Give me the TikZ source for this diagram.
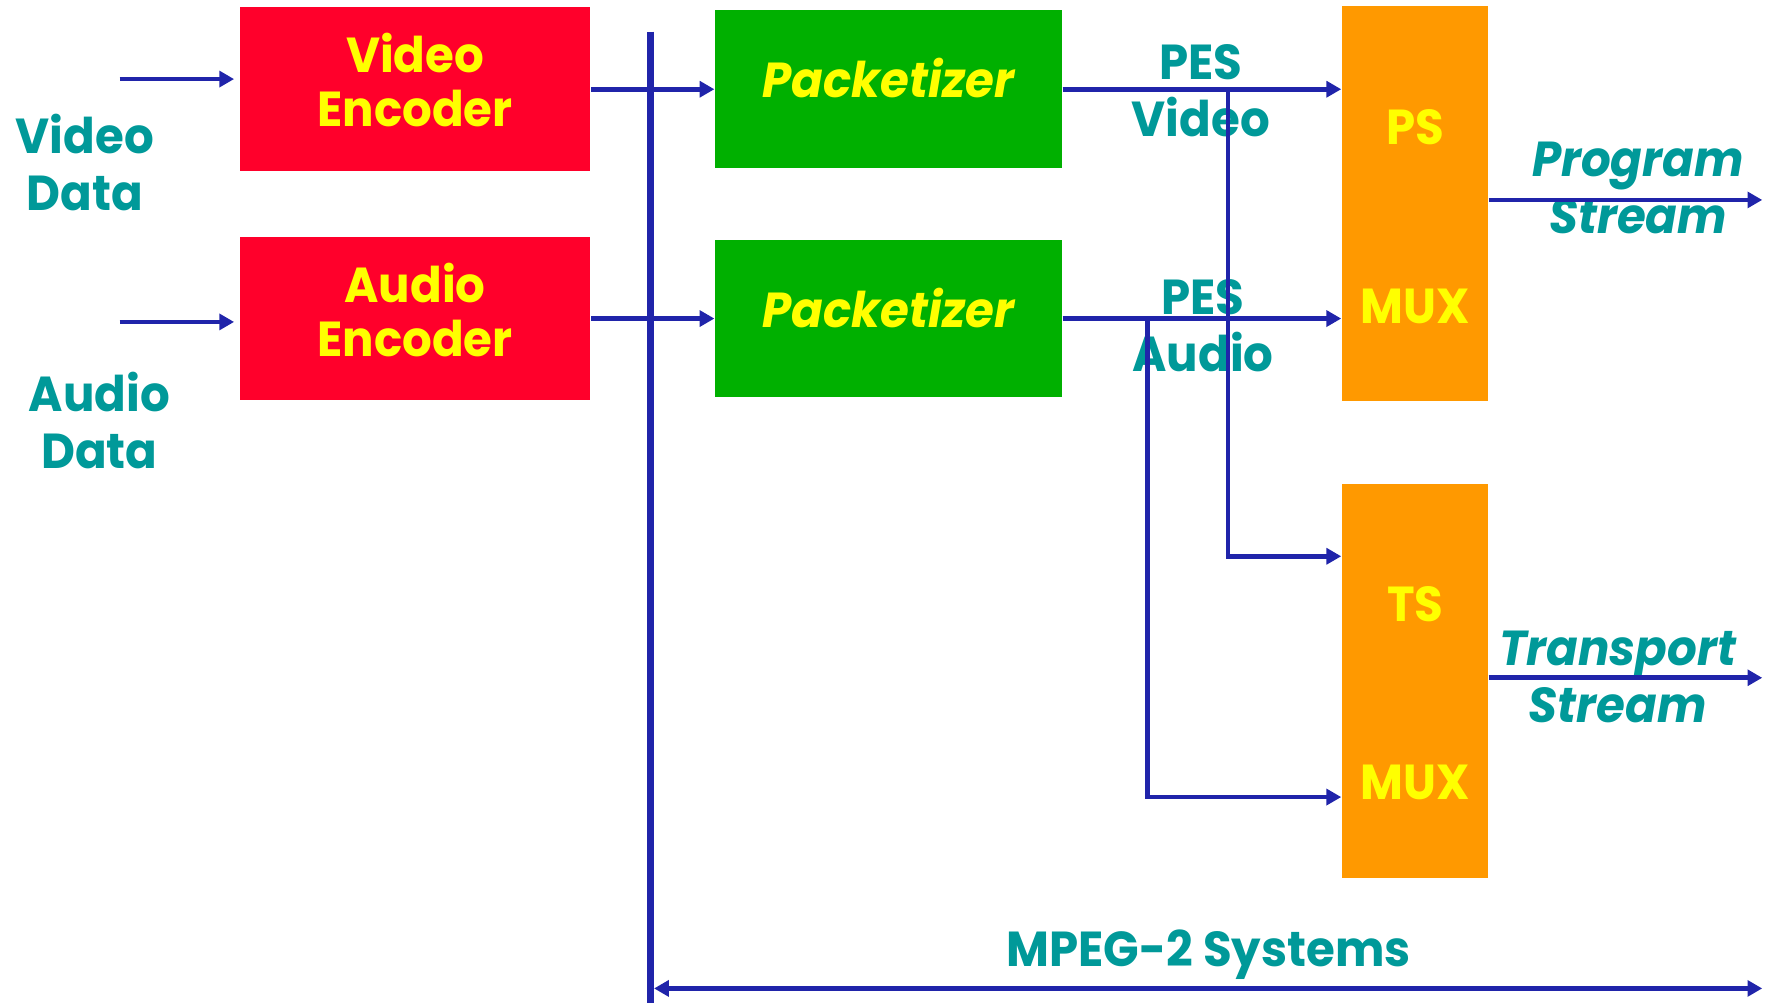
\documentclass[tikz,border=0pt]{standalone}
\usepackage{fontspec}
\setmainfont{Poppins}[FakeStretch=0.95]
\usetikzlibrary{arrows.meta}
\usetikzlibrary{positioning}

\definecolor{encred}{RGB}{255,0,43}
\definecolor{pktgreen}{RGB}{0,176,0}
\definecolor{muxorange}{RGB}{255,153,0}
\definecolor{boxyellow}{RGB}{255,255,0}
\definecolor{labteal}{RGB}{0,153,153}
\definecolor{lineblue}{RGB}{32,36,170}

\tikzset{
    block/.style={
        rectangle, inner sep=0pt, align=center,
        text=boxyellow, font=\bfseries\fontsize{14}{15.4}\selectfont,
    },
    encbox/.style={block, fill=encred, minimum width=3.51cm, minimum height=1.64cm,
        text depth=0.18cm},
    pktbox/.style={block, fill=pktgreen, minimum width=3.47cm, minimum height=1.58cm,
        text depth=0.22cm, font=\bfseries\itshape\fontsize{14}{15.4}\selectfont},
    muxbox/.style={block, fill=muxorange, minimum width=1.46cm, minimum height=3.95cm},
    muxlabel/.style={inner sep=0pt, text=boxyellow, font=\bfseries\fontsize{14}{15.4}\selectfont},
    sidelabel/.style={inner sep=0pt, align=center, text=labteal,
        font=\bfseries\fontsize{14}{16.2}\selectfont},
    streamlabel/.style={sidelabel, font=\bfseries\itshape\fontsize{14}{16.2}\selectfont},
    flow/.style={draw=lineblue, line width=1.3pt, -{Triangle[length=4.2pt,width=4.5pt]}},
    busline/.style={draw=lineblue, line width=2.1pt},
}

\begin{document}
\begin{tikzpicture}[x=0.0113cm, y=-0.0113cm]
    \useasboundingbox (0,0) rectangle (1566,888);

    % encoders and packetizers
    \node (venc) at(367.5,79) [encbox] {Video\\Encoder};
    \node (aenc) at(367.5,282) [encbox] {Audio\\Encoder};
    \node (vpkt) at(786.5,79) [pktbox] {Packetizer};
    \node (apkt) at(786.5,282) [pktbox] {Packetizer};

    % multiplexers
    \node (psmux) at(1252.5,180) [muxbox] {};
    \node (tsmux) at(1252.5,603) [muxbox] {};
    \node (pslab) at(1253,113) [muxlabel] {PS};
    \node (psmuxlab) at(1253,271) [muxlabel] {MUX};
    \node (tslab) at(1253,535) [muxlabel] {TS};
    \node (tsmuxlab) at(1253,693) [muxlabel] {MUX};

    % labels
    \node (vdata) at(75,144) [sidelabel] {Video\\Data};
    \node (adata) at(88,372) [sidelabel] {Audio\\Data};
    \node (pesv) at(1063,80) [sidelabel] {PES\\Video};
    \node (pesa) at(1065,288) [sidelabel] {PES\\Audio};
    \node (pstream) at(1450,166) [streamlabel] {Program\\Stream};
    \node (tstream) at(1432,599) [streamlabel] {Transport\\Stream};
    \node (sys) at(1070,845) [sidelabel] {MPEG-2 Systems};

    \coordinate (vin) at(106,70);
    \coordinate (ain) at(106,285);
    \coordinate (vtap) at(1087,79);
    \coordinate (atap) at(1016,282);
    \coordinate (psout) at(1560,177);
    \coordinate (tsout) at(1560,600);
    \coordinate (bustop) at(576,28);
    \coordinate (busbot) at(576,888);
    \coordinate (sysleft) at(579,875);
    \coordinate (sysright) at(1560,875);

    % connectors
    \draw[flow, shorten >=0.05cm] (vin) -- (vin -| venc.west);
    \draw[flow, shorten >=0.05cm] (ain) -- (ain -| aenc.west);
    \draw[busline] (bustop) -- (busbot);
    \draw[flow] (venc.east) -- (vpkt.west);
    \draw[flow] (aenc.east) -- (apkt.west);
    \draw[flow] (vpkt.east) -- (vpkt.east -| psmux.west);
    \draw[flow] (apkt.east) -- (apkt.east -| psmux.west);
    \draw[flow] (vtap) |- ([yshift=1.25cm]tsmux.west);
    \draw[flow] (atap) |- ([yshift=-1.16cm]tsmux.west);
    \draw[flow] (psout -| psmux.east) -- (psout);
    \draw[flow] (tsout -| tsmux.east) -- (tsout);
    \draw[flow, {Triangle[length=4.2pt,width=4.5pt]}-{Triangle[length=4.2pt,width=4.5pt]}] (sysleft) -- (sysright);
\end{tikzpicture}
\end{document}
